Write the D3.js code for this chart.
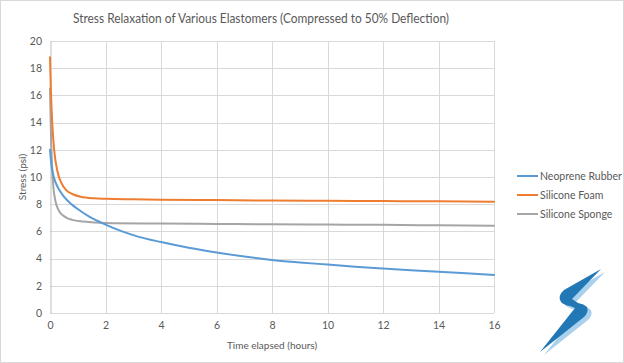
<!DOCTYPE html>
<html>
<head>
<meta charset="utf-8">
<script src="https://cdn.jsdelivr.net/npm/d3@7"></script>
<style>
  body { margin: 0; background: #fff; }
  text { font-family: Lato, "Open Sans", sans-serif; fill: #595959; }
</style>
</head>
<body>
<div id="chart-area"></div>
<script>
const seriesNames = ["Neoprene Rubber", "Silicone Foam", "Silicone Sponge"];
const seriesColors = ["#5B9BD5", "#ED7D31", "#A5A5A5"];

const neopreneTime = [0, 0.05, 0.1, 0.2, 0.35, 0.5, 0.8, 1.1, 1.4, 2, 2.6, 3.2, 4, 5, 6, 7, 8, 9, 10, 11, 12, 13, 14, 15, 16];
const neopreneStress = [12.0, 10.9, 10.3, 9.6, 9.0, 8.55, 7.95, 7.5, 7.1, 6.5, 6.0, 5.6, 5.22, 4.8, 4.45, 4.15, 3.9, 3.72, 3.56, 3.4, 3.27, 3.15, 3.04, 2.92, 2.8];

const foamTime = [0, 0.03, 0.08, 0.15, 0.27, 0.4, 0.6, 0.8, 1.1, 1.6, 2, 3, 4, 6, 8, 10, 12, 14, 16];
const foamStress = [18.8, 16.5, 14.0, 12.0, 10.4, 9.6, 9.0, 8.75, 8.55, 8.43, 8.4, 8.36, 8.33, 8.3, 8.27, 8.25, 8.23, 8.21, 8.18];

const spongeTime = [0, 0.03, 0.07, 0.12, 0.2, 0.3, 0.45, 0.6, 0.8, 1.2, 2, 4, 6, 8, 10, 12, 14, 16];
const spongeStress = [16.5, 13.5, 11.0, 9.3, 8.2, 7.6, 7.2, 7.0, 6.85, 6.73, 6.62, 6.58, 6.55, 6.52, 6.5, 6.48, 6.45, 6.42];

const xTicks = [0, 2, 4, 6, 8, 10, 12, 14, 16];
const yTicks = [0, 2, 4, 6, 8, 10, 12, 14, 16, 18, 20];

const chart = { width: 624, height: 363 };
const margin = { top: 41, left: 50, right: 130, bottom: 50 };
const width = 494 - margin.left;
const height = 313 - margin.top;

const series = [
  { name: seriesNames[0], color: seriesColors[0], t: neopreneTime, v: neopreneStress },
  { name: seriesNames[1], color: seriesColors[1], t: foamTime, v: foamStress },
  { name: seriesNames[2], color: seriesColors[2], t: spongeTime, v: spongeStress }
];

const x = d3.scaleLinear().domain([0, 16]).range([0, width]);
const y = d3.scaleLinear().domain([0, 20]).range([height, 0]);

const svg = d3.select("#chart-area").append("svg")
  .attr("width", chart.width)
  .attr("height", chart.height);

svg.append("rect")
  .attr("x", 0.5).attr("y", 0.5)
  .attr("width", chart.width - 1).attr("height", chart.height - 1)
  .attr("fill", "#fff").attr("stroke", "#D9D9D9");

svg.append("text")
  .text("Stress Relaxation of Various Elastomers (Compressed to 50% Deflection)")
  .attr("x", 73).attr("y", 23)
  .attr("textLength", 376)
  .attr("lengthAdjust", "spacingAndGlyphs")
  .style("font-size", "14px");

const g = svg.append("g")
  .attr("transform", `translate(${margin.left}, ${margin.top})`);

// gridlines
g.append("g").selectAll("line").data(yTicks).join("line")
  .attr("x1", 0).attr("x2", width)
  .attr("y1", d => Math.round(y(d)) + 0.5).attr("y2", d => Math.round(y(d)) + 0.5)
  .attr("stroke", "#D9D9D9");
g.append("g").selectAll("line").data(xTicks.slice(1)).join("line")
  .attr("x1", d => Math.round(x(d)) + 0.5).attr("x2", d => Math.round(x(d)) + 0.5)
  .attr("y1", 0).attr("y2", height)
  .attr("stroke", "#D9D9D9");

const yAxis = g.append("g")
  .call(d3.axisLeft(y).tickValues(yTicks).tickSize(0).tickPadding(8));
yAxis.select(".domain").attr("stroke", "#BFBFBF").attr("transform", "translate(0.5,0)");
yAxis.selectAll("text").style("font-size", "10.5px").attr("fill", "#595959");

const xAxis = g.append("g")
  .attr("transform", `translate(0, ${height})`)
  .call(d3.axisBottom(x).tickValues(xTicks).tickSize(0).tickPadding(9));
xAxis.select(".domain").remove();
xAxis.selectAll("text").style("font-size", "10.5px").attr("fill", "#595959");

g.append("text")
  .text("Stress (psi)")
  .attr("transform", "rotate(-90)")
  .attr("x", -height / 2).attr("y", -24)
  .attr("text-anchor", "middle")
  .style("font-size", "10px");

g.append("text")
  .text("Time elapsed (hours)")
  .attr("x", width / 2).attr("y", height + 36)
  .attr("text-anchor", "middle")
  .style("font-size", "10px");

const line = d3.line()
  .x(d => x(d[0]))
  .y(d => y(d[1]))
  .curve(d3.curveMonotoneX);

g.selectAll(".series").data([series[2], series[0], series[1]]).join("path")
  .attr("class", "series")
  .attr("d", s => line(s.t.map((t, i) => [t, s.v[i]])))
  .attr("fill", "none")
  .attr("stroke", s => s.color)
  .attr("stroke-width", 2)
  .attr("stroke-linecap", "round");

// legend
const legend = svg.append("g").attr("transform", "translate(517, 176)");
series.forEach((s, i) => {
  const row = legend.append("g").attr("transform", `translate(0, ${i * 19})`);
  row.append("line").attr("x1", 0).attr("x2", 21).attr("y1", 0).attr("y2", 0)
    .attr("stroke", s.color).attr("stroke-width", 2);
  row.append("text").text(s.name).attr("x", 23).attr("y", 4)
    .style("font-size", "10.5px");
});

// logo
const logoPath = "M71,7 L34,28 Q27,34 31,40 Q34,43 40,44 L45,46 L10,90 L54,55 Q59,50 57,45 Q54,42 48,41 L42,37 Z";
const logo = svg.append("g").attr("transform", "translate(530, 262)");
logo.append("path").attr("d", logoPath).attr("fill", "#A9D1EE").attr("transform", "translate(4,3)");
logo.append("path").attr("d", logoPath).attr("fill", "#2278B5");
</script>
</body>
</html>
